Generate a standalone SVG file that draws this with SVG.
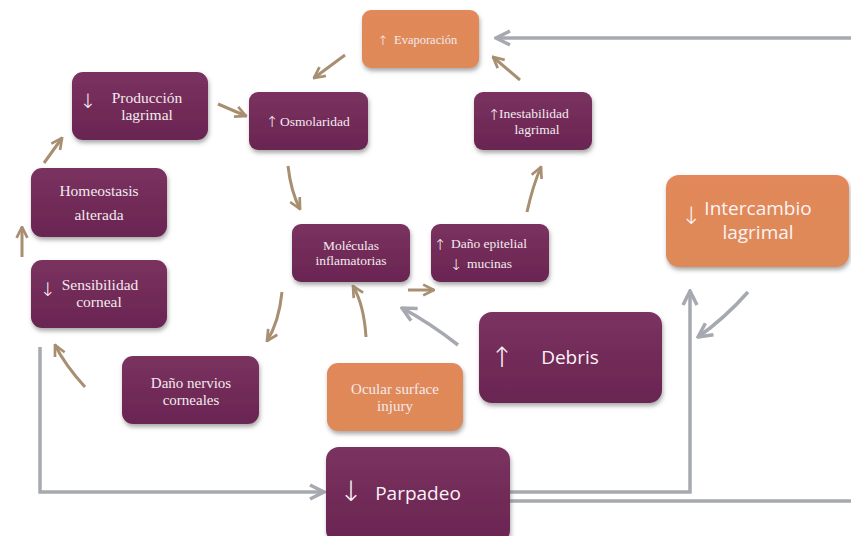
<svg xmlns="http://www.w3.org/2000/svg" width="851" height="536" viewBox="0 0 851 536">
<defs>
<linearGradient id="gp" x1="0" y1="0" x2="0" y2="1">
<stop offset="0" stop-color="#7a325f"/><stop offset="1" stop-color="#6a2552"/>
</linearGradient>
<linearGradient id="go" x1="0" y1="0" x2="0" y2="1">
<stop offset="0" stop-color="#e2885a"/><stop offset="1" stop-color="#de8a58"/>
</linearGradient>
<filter id="sh" x="-10%" y="-10%" width="125%" height="130%">
<feDropShadow dx="1" dy="3" stdDeviation="2" flood-color="#555" flood-opacity="0.5"/>
</filter>
<marker id="ta" viewBox="0 0 10 10" refX="9" refY="5" markerWidth="4.5" markerHeight="4.5" orient="auto" markerUnits="strokeWidth">
<path d="M1,1 L9,5 L1,9" fill="none" stroke="#a88f72" stroke-width="2"/>
</marker>
<marker id="ga" viewBox="0 0 10 10" refX="9" refY="5" markerWidth="5" markerHeight="5" orient="auto" markerUnits="strokeWidth">
<path d="M1,1 L9,5 L1,9" fill="none" stroke="#a6a9b0" stroke-width="2"/>
</marker>
</defs>
<style>
.p{fill:url(#gp);filter:url(#sh)}
.o{fill:url(#go);filter:url(#sh)}
.s{font-family:"Liberation Serif","Times New Roman",serif;fill:#f3e9ef}
.a{font-family:"Open Sans","Liberation Sans",sans-serif;fill:#fbf3f6}
.ar{font-family:"DejaVu Sans",sans-serif;font-weight:200;fill:#fbf3f6;text-anchor:middle}
.t{fill:none;stroke:#a88f72;stroke-width:3;marker-end:url(#ta)}
.g{fill:none;stroke:#a6a9b0;stroke-width:3.5}
.gm{marker-end:url(#ga)}
</style>
<rect width="851" height="536" fill="#ffffff"/>

<g id="connectors">
<path class="t" d="M345,55 L314,78"/>
<path class="t" d="M218,104 L246,116"/>
<path class="t" d="M44,163 L62,138"/>
<path class="t" d="M22,257 L22,227"/>
<path class="t" d="M288,166 Q291,192 300,209"/>
<path class="t" d="M520,80 L493,57"/>
<path class="t" d="M527,212 Q533,185 541,167"/>
<path class="t" d="M408,290 L434,290"/>
<path class="t" d="M282,292 Q279,322 267,341"/>
<path class="t" d="M366,337 Q364,305 353,286"/>
<path class="t" d="M85,387 Q65,365 55,345"/>
<path class="g gm" d="M458,345 Q430,323 402,308"/>
<path class="g gm" d="M748,292 Q725,318 698,337"/>
<path class="g gm" d="M510,492 L690,492 L690,291"/>
<path class="g" d="M510,501 L851,501"/>
<path class="g gm" d="M851,38 L496,38"/>
<path class="g gm" d="M40,347 L40,492 L324,492"/>
</g>

<g id="evaporacion"><rect class="o" x="362" y="10" width="117" height="58" rx="9"/>
<text class="ar" x="383" y="45" font-size="13">↑</text>
<text class="s" x="394" y="44" font-size="12.5">Evaporación</text></g>

<g id="produccion"><rect class="p" x="72" y="72" width="136" height="68" rx="11"/>
<text class="ar" x="88" y="108" font-size="20">↓</text>
<text class="s" x="147" y="103" font-size="15.5" text-anchor="middle">Producción</text>
<text class="s" x="147" y="120" font-size="15.5" text-anchor="middle">lagrimal</text></g>

<g id="osmolaridad"><rect class="p" x="249" y="92" width="119" height="58" rx="9"/>
<text class="ar" x="272" y="127" font-size="15">↑</text>
<text class="s" x="280" y="126" font-size="13.5">Osmolaridad</text></g>

<g id="inestabilidad"><rect class="p" x="474" y="92" width="118" height="58" rx="9"/>
<text class="ar" x="494" y="120" font-size="15">↑</text>
<text class="s" x="499" y="118" font-size="13.5">Inestabilidad</text>
<text class="s" x="537" y="134" font-size="13.5" text-anchor="middle">lagrimal</text></g>

<g id="homeostasis"><rect class="p" x="31" y="168" width="136" height="69" rx="11"/>
<text class="s" x="99" y="196" font-size="15.5" text-anchor="middle">Homeostasis</text>
<text class="s" x="99" y="220" font-size="15.5" text-anchor="middle">alterada</text></g>

<g id="intercambio"><rect class="o" x="666" y="175" width="183" height="92" rx="13"/>
<text class="ar" x="691" y="224" font-size="24">↓</text>
<text class="a" x="758" y="215" font-size="19" text-anchor="middle">Intercambio</text>
<text class="a" x="758" y="239" font-size="19" text-anchor="middle">lagrimal</text></g>

<g id="moleculas"><rect class="p" x="292" y="224" width="118" height="58" rx="9"/>
<text class="s" x="351" y="250" font-size="13.5" text-anchor="middle">Moléculas</text>
<text class="s" x="351" y="265" font-size="13.5" text-anchor="middle">inflamatorias</text></g>

<g id="dano-epitelial"><rect class="p" x="431" y="224" width="118" height="58" rx="9"/>
<text class="ar" x="440" y="250" font-size="15">↑</text>
<text class="s" x="451" y="248" font-size="13.5">Daño epitelial</text>
<text class="ar" x="456" y="270" font-size="15">↓</text>
<text class="s" x="467" y="268" font-size="13.5">mucinas</text></g>

<g id="sensibilidad"><rect class="p" x="31" y="260" width="136" height="68" rx="11"/>
<text class="ar" x="48" y="296" font-size="19">↓</text>
<text class="s" x="100" y="290" font-size="15.5" text-anchor="middle">Sensibilidad</text>
<text class="s" x="99" y="307" font-size="15.5" text-anchor="middle">corneal</text></g>

<g id="debris"><rect class="p" x="479" y="312" width="183" height="91" rx="13"/>
<text class="ar" x="502" y="367" font-size="28">↑</text>
<text class="a" x="570" y="364" font-size="19" text-anchor="middle">Debris</text></g>

<g id="dano-nervios"><rect class="p" x="122" y="356" width="137" height="68" rx="11"/>
<text class="s" x="191" y="388" font-size="15" text-anchor="middle">Daño nervios</text>
<text class="s" x="191" y="405" font-size="15" text-anchor="middle">corneales</text></g>

<g id="ocular"><rect class="o" x="327" y="363" width="136" height="68" rx="11"/>
<text class="s" x="395" y="394" font-size="15" text-anchor="middle">Ocular surface</text>
<text class="s" x="395" y="411" font-size="15" text-anchor="middle">injury</text></g>

<g id="parpadeo"><rect class="p" x="326" y="447" width="184" height="96" rx="13"/>
<text class="ar" x="351" y="501" font-size="28">↓</text>
<text class="a" x="418" y="500" font-size="19" text-anchor="middle">Parpadeo</text></g>
</svg>
